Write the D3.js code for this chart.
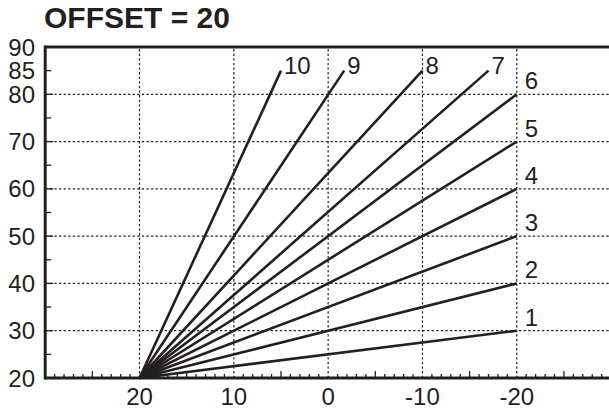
<!DOCTYPE html>
<html>
<head>
<meta charset="utf-8">
<script src="https://cdn.jsdelivr.net/npm/d3@7"></script>
<style>
  html, body { margin: 0; padding: 0; background: #fff; }
  svg { display: block; }
  text { font-family: "Liberation Sans", Arial, sans-serif; fill: #231f20; }
</style>
</head>
<body>
<svg id="chart" width="609" height="414"></svg>
<script>
// ---- data ----
const title = "OFFSET = 20";
const curveNames = ["1", "2", "3", "4", "5", "6", "7", "8", "9", "10"];
const startX = 20, startY = 20;
const endX = [-20, -20, -20, -20, -20, -20, -17, -10, -1.7, 5];
const endY = [30, 40, 50, 60, 70, 80, 85, 85, 85, 85];
const xTickLabels = [20, 10, 0, -10, -20];
const yTickLabels = [20, 30, 40, 50, 60, 70, 80, 85, 90];
const yGrid = [30, 40, 50, 60, 70, 80];
const yMinor = [25, 35, 45, 55, 65, 75, 85];

// ---- drawing ----
const ink = "#231f20";
const svg = d3.select("#chart");
const x = d3.scaleLinear().domain([30, -30]).range([45.2, 611.1]);
const y = d3.scaleLinear().domain([20, 90]).range([378, 47]);

// title
svg.append("text").attr("x", 44).attr("y", 28)
  .attr("font-size", 30).attr("font-weight", "bold").text(title);

// grid
const grid = svg.append("g").attr("stroke", ink).attr("stroke-width", 1.2)
  .attr("stroke-dasharray", "2.3,2.3");
grid.selectAll("line.h").data(yGrid).join("line")
  .attr("x1", x(30)).attr("x2", x(-30))
  .attr("y1", d => y(d)).attr("y2", d => y(d));
grid.selectAll("line.v").data(xTickLabels).join("line")
  .attr("x1", d => x(d)).attr("x2", d => x(d))
  .attr("y1", y(20)).attr("y2", y(90));

// x minor ticks
const xMinor = d3.range(29, -30, -1).filter(v => v % 10 !== 0);
svg.append("g").selectAll("line").data(xMinor).join("line")
  .attr("x1", d => x(d)).attr("x2", d => x(d))
  .attr("y1", y(20)).attr("y2", d => y(20) - (d % 5 === 0 ? 7 : 4))
  .attr("stroke", ink).attr("stroke-width", 1.3);

// y ticks
svg.append("g").selectAll("line").data(yMinor).join("line")
  .attr("x1", x(30)).attr("x2", x(30) + 6)
  .attr("y1", d => y(d)).attr("y2", d => y(d))
  .attr("stroke", ink).attr("stroke-width", 1.3);
svg.append("g").selectAll("line").data(yGrid).join("line")
  .attr("x1", x(30)).attr("x2", x(30) + 8)
  .attr("y1", d => y(d)).attr("y2", d => y(d))
  .attr("stroke", ink).attr("stroke-width", 1.3);

// frame lines
svg.append("line").attr("x1", x(30)).attr("x2", x(-30)).attr("y1", y(90)).attr("y2", y(90))
  .attr("stroke", ink).attr("stroke-width", 3);
svg.append("line").attr("x1", x(30)).attr("x2", x(-30)).attr("y1", y(20)).attr("y2", y(20))
  .attr("stroke", ink).attr("stroke-width", 3);
svg.append("line").attr("x1", x(30)).attr("x2", x(30)).attr("y1", y(90) - 1.5).attr("y2", y(20) + 1.5)
  .attr("stroke", ink).attr("stroke-width", 3);

// tick labels
svg.append("g").selectAll("text").data(yTickLabels).join("text")
  .attr("x", 35).attr("y", d => y(d) + 8.5)
  .attr("text-anchor", "end").attr("font-size", 24).text(d => d);
svg.append("g").selectAll("text").data(xTickLabels).join("text")
  .attr("x", d => x(d)).attr("y", 405)
  .attr("text-anchor", "middle").attr("font-size", 24).text(d => d);

// curves
const curves = curveNames.map((n, i) => ({ name: n, pts: [[startX, startY], [endX[i], endY[i]]] }));
const line = d3.line().x(d => x(d[0])).y(d => y(d[1]));
svg.append("g").selectAll("path").data(curves).join("path")
  .attr("d", d => line(d.pts)).attr("fill", "none")
  .attr("stroke", ink).attr("stroke-width", 2.6);

// curve labels
svg.append("g").selectAll("text").data(curves).join("text")
  .attr("x", (d, i) => x(d.pts[1][0]) + (i < 6 ? 8 : 3))
  .attr("y", (d, i) => y(d.pts[1][1]) + (i < 6 ? -5 : 3))
  .attr("font-size", 24).text(d => d.name);
</script>
</body>
</html>
